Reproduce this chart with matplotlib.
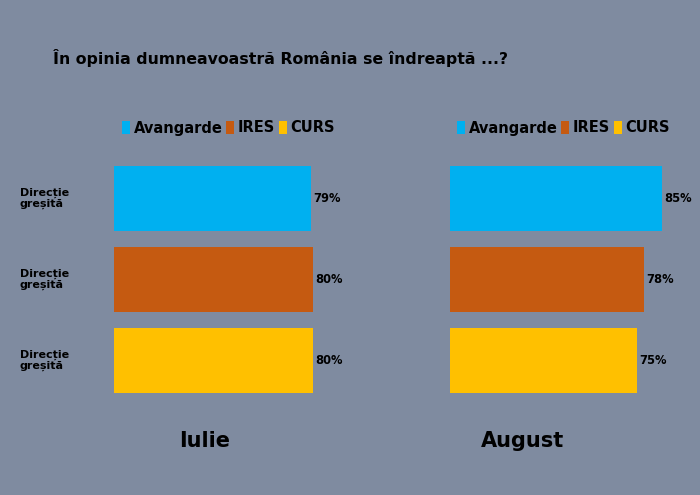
import matplotlib
matplotlib.use("Agg")
import matplotlib.pyplot as plt
import matplotlib.transforms as mtransforms
from matplotlib.patches import Patch

title = "În opinia dumneavoastră România se îndreaptă ...?"
series = ["Avangarde", "IRES", "CURS"]
colors = ["#00B0F0", "#C55A11", "#FFC000"]
category = "Direcție\ngreșită"
periods = ["Iulie", "August"]
values_iulie = [79, 80, 80]
values_august = [85, 78, 75]
all_values = [values_iulie, values_august]

BG = "#7F8BA0"
W, H = 700, 495
fig = plt.figure(figsize=(W / 100, H / 100), dpi=100, facecolor=BG)
plt.rcParams['font.family'] = ['DejaVu Sans']

def fx(px):
    return px / W

def fy(py):
    return 1 - py / H

fig.text(fx(53), fy(58), title, fontsize=11.3, fontweight='bold', color='black',
         ha='left', va='center')

ax_left_px = [114, 450]
ax_w = 249
ax_top, ax_bot = 158, 401
period_centers = [204.5, 522.5]
legend_left_px = [122, 457]

for k, (vals, period) in enumerate(zip(all_values, periods)):
    ax = fig.add_axes([fx(ax_left_px[k]), fy(ax_bot), fx(ax_w), (ax_bot - ax_top) / H])
    ax.set_facecolor('none')
    ax.set_xlim(0, 100)
    ax.set_ylim(2.5, -0.5)
    ypos = list(range(len(vals)))
    ax.barh(ypos, vals, height=0.8, color=colors)
    for y, v in zip(ypos, vals):
        ax.text(v + 1, y, f"{v}%", fontsize=8.3, fontweight='bold', color='black',
                ha='left', va='center')
    ax.axis('off')
    if k == 0:
        trans = mtransforms.blended_transform_factory(fig.transFigure, ax.transData)
        for y in ypos:
            fig.text(fx(20), y, category, fontsize=8, fontweight='bold',
                     color='black', ha='left', va='center', linespacing=1.1,
                     transform=trans)
    handles = [Patch(facecolor=c, edgecolor='none') for c in colors]
    fig.legend(handles, series, loc='center left', ncol=3, frameon=False,
               bbox_to_anchor=(fx(legend_left_px[k]), fy(128)),
               handletextpad=0.25, columnspacing=0.25, handlelength=0.55,
               handleheight=0.95,
               prop={'weight': 'bold', 'size': 10.5}, borderaxespad=0, borderpad=0)
    fig.text(fx(period_centers[k]), fy(441), period, fontsize=15, fontweight='bold',
             color='black', ha='center', va='center')

fig.savefig("out.png", dpi=100, facecolor=BG)
